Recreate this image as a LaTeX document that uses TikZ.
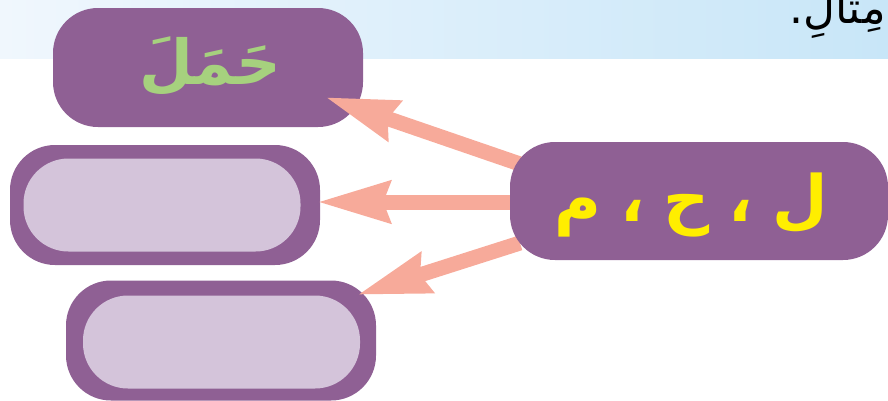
\documentclass[tikz,border=0pt]{standalone}
\usepackage{fontspec}
\newfontfamily\arabicfont[Script=Arabic]{DejaVu Sans}
\TeXXeTstate=1
\usetikzlibrary{arrows.meta}
\definecolor{boxpurple}{HTML}{8F6094}
\definecolor{boxinner}{HTML}{D4C4DA}
\definecolor{arrowc}{HTML}{F7AA9A}
\definecolor{greentext}{HTML}{A6D17E}
\definecolor{yellowtext}{HTML}{FFEE00}
\definecolor{bandleft}{HTML}{F0F7FD}
\definecolor{bandright}{HTML}{C8E6F8}
\tikzset{
  pill/.style={rectangle, rounded corners=45pt, fill=boxpurple, draw=none, inner sep=0pt},
  innerpill/.style={rectangle, rounded corners=45pt, fill=boxinner, draw=none, inner sep=0pt, minimum width=277pt, minimum height=93pt},
  arr/.style={draw=arrowc, line width=15pt, -{Stealth[length=72pt,width=40pt,inset=6pt]}},
}
\begin{document}
\begin{tikzpicture}[x=1pt,y=-1pt]
\useasboundingbox (0,0) rectangle (888,400);
\clip (0,0) rectangle (888,400);
\fill[left color=bandleft, right color=bandright] (0,0) rectangle (888,58);
\node[anchor=base east, inner sep=0pt, font=\arabicfont\fontsize{44}{50}\selectfont] (title) at (886,23) {\beginR مِثالِ.\endR};
% left boxes
\node[pill, minimum width=310pt, minimum height=119pt] (top) at (208,67.5) {};
\node[inner sep=0pt, text=greentext, font=\arabicfont\bfseries\fontsize{62}{68}\selectfont] (toptext) at (210,66) {\beginR حَمَلَ\endR};
\node[pill, minimum width=310pt, minimum height=120pt] (mid) at (165,205) {};
\node[innerpill] (midin) at (162,205) {};
\node[pill, minimum width=310pt, minimum height=120pt] (bot) at (221,340.5) {};
\node[innerpill] (botin) at (221.5,342) {};
% arrow tails and tips
\coordinate (t1) at (520,164);
\coordinate (t2) at (520,202);
\coordinate (t3) at (520,243);
\coordinate (h1) at (325,97);
\coordinate (h2) at (317,202);
\coordinate (h3) at (357,295);
\draw[arr] (t1) -- (h1);
\draw[arr] (t2) -- (h2);
\draw[arr] (t3) -- (h3);
% right box
\node[pill, minimum width=378pt, minimum height=118pt] (src) at (699,201) {};
\node[inner sep=0pt, text=yellowtext, font=\arabicfont\bfseries\fontsize{64}{70}\selectfont] (srctext) at (691,205) {\beginR ل\hspace{0.3em}،\hspace{0.3em}ح\hspace{0.3em}،\hspace{0.3em}م\endR};
\end{tikzpicture}
\end{document}
